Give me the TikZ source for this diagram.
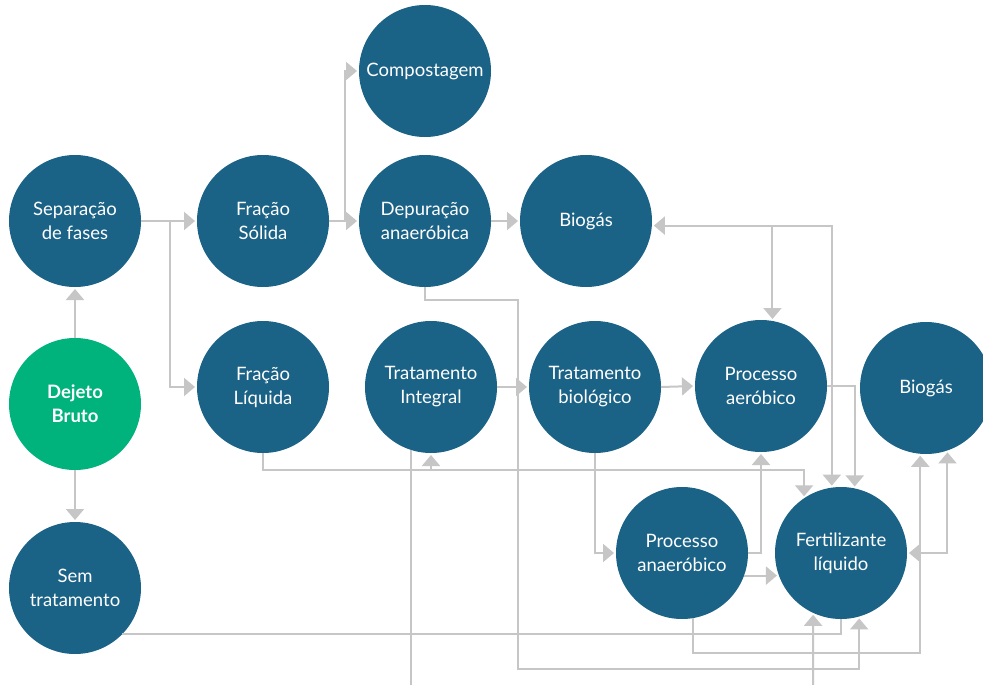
\documentclass[tikz,border=0pt]{standalone}
\usepackage{fontspec}
\setmainfont{Lato}
\usetikzlibrary{arrows.meta,calc}
\definecolor{nodeblue}{HTML}{1A6286}
\definecolor{nodegreen}{HTML}{00B27B}
\definecolor{linegray}{HTML}{C6C6C6}
\begin{document}
\begin{tikzpicture}[x=1pt,y=-1pt,
  circ/.style={circle,fill=nodeblue,minimum size=132pt,inner sep=0pt,outer sep=0pt,
    text=white,align=center,font=\fontsize{18.5}{24}\selectfont},
  startnode/.style={circ,fill=nodegreen,font=\fontsize{18.5}{24}\selectfont\bfseries},
  plain/.style={draw=linegray,line width=2pt},
  conn/.style={plain,-{Triangle[width=18pt,length=11pt]},shorten >=2pt},
  bconn/.style={plain,{Triangle[width=18pt,length=11pt]}-{Triangle[width=18pt,length=11pt]},shorten >=2pt,shorten <=2pt}]
\useasboundingbox (0,0) rectangle (983,685);
\fill[white] (0,0) rectangle (983,685);

% nodes
\node[circ] (sep) at (75,221) {Separação\\de fases};
\node[startnode] (dej) at (75,404) {Dejeto\\Bruto};
\node[circ] (sem) at (75,588) {Sem\\tratamento};
\node[circ] (fsol) at (263,221) {Fração\\Sólida};
\node[circ] (fliq) at (263,387) {Fração\\Líquida};
\node[circ] (comp) at (425,71) {Compostagem};
\node[circ] (dep) at (425,221) {Depuração\\anaeróbica};
\node[circ] (bioa) at (586,221) {Biogás};
\node[circ] (tint) at (431,387) {Tratamento\\Integral};
\node[circ] (tbio) at (595,387) {Tratamento\\biológico};
\node[circ] (paer) at (761,386) {Processo\\aeróbico};
\node[circ] (biob) at (926,388) {Biogás};
\node[circ] (pana) at (682,553) {Processo\\anaeróbico};
\node[circ] (fert) at (841,553) {Fertilizante\\líquido};

% junction coordinates
\coordinate (j1) at (170,221);
\coordinate (j2) at (345,221);
\coordinate (j3) at (518,300);
\coordinate (j4) at (518,669);
\coordinate (j5) at (263,470);
\coordinate (j6) at (431,470);
\coordinate (j7) at (410,685);
\coordinate (j8) at (813,685);
\coordinate (j9) at (694,653);
\coordinate (j10) at (773,226);

% connectors
\draw[conn] (dej.north) -- (sep.south);
\draw[conn] (dej.south) -- (sem.north);
\draw[conn] (sep.east) -- (fsol.west);
\draw[conn] (j1) |- (fliq.west);
\draw[conn] (fsol.east) -- (dep.west);
\draw[conn] (j2) |- (comp.west);
\draw[conn] (dep.east) -- (bioa.west);
\draw[conn] (dep.south) |- (j3) -- (j4) -| (fert.-74);
\draw[conn] (fliq.south) -- (j5) -| (fert.124);
\draw[conn] (j6) -- (tint.south);
\draw[plain] (tint.-108) -- (tint.-108 |- j7);
\draw[conn] (j8) -- (fert.-115);
\draw[plain] (sem.-44) -| (fert.south);
\draw[conn] (tint.east) -- (tbio.west);
\draw[conn] (tbio.east) -- (paer.west);
\draw[conn] (tbio.south) |- (pana.west);
\draw[conn] (pana.east) -| (paer.south);
\draw[conn] (pana.-20) -- (fert.200);
\draw[conn] (pana.-80) -- (pana.-80 |- j9) -| (biob.-95);
\draw[bconn] (biob.-71) |- (fert.east);
\draw[bconn] (bioa.-4) -| (fert.98);
\draw[conn] (paer.80 |- j10) -- (paer.80);
\draw[conn] (paer.east) -| (fert.78);
\end{tikzpicture}
\end{document}
